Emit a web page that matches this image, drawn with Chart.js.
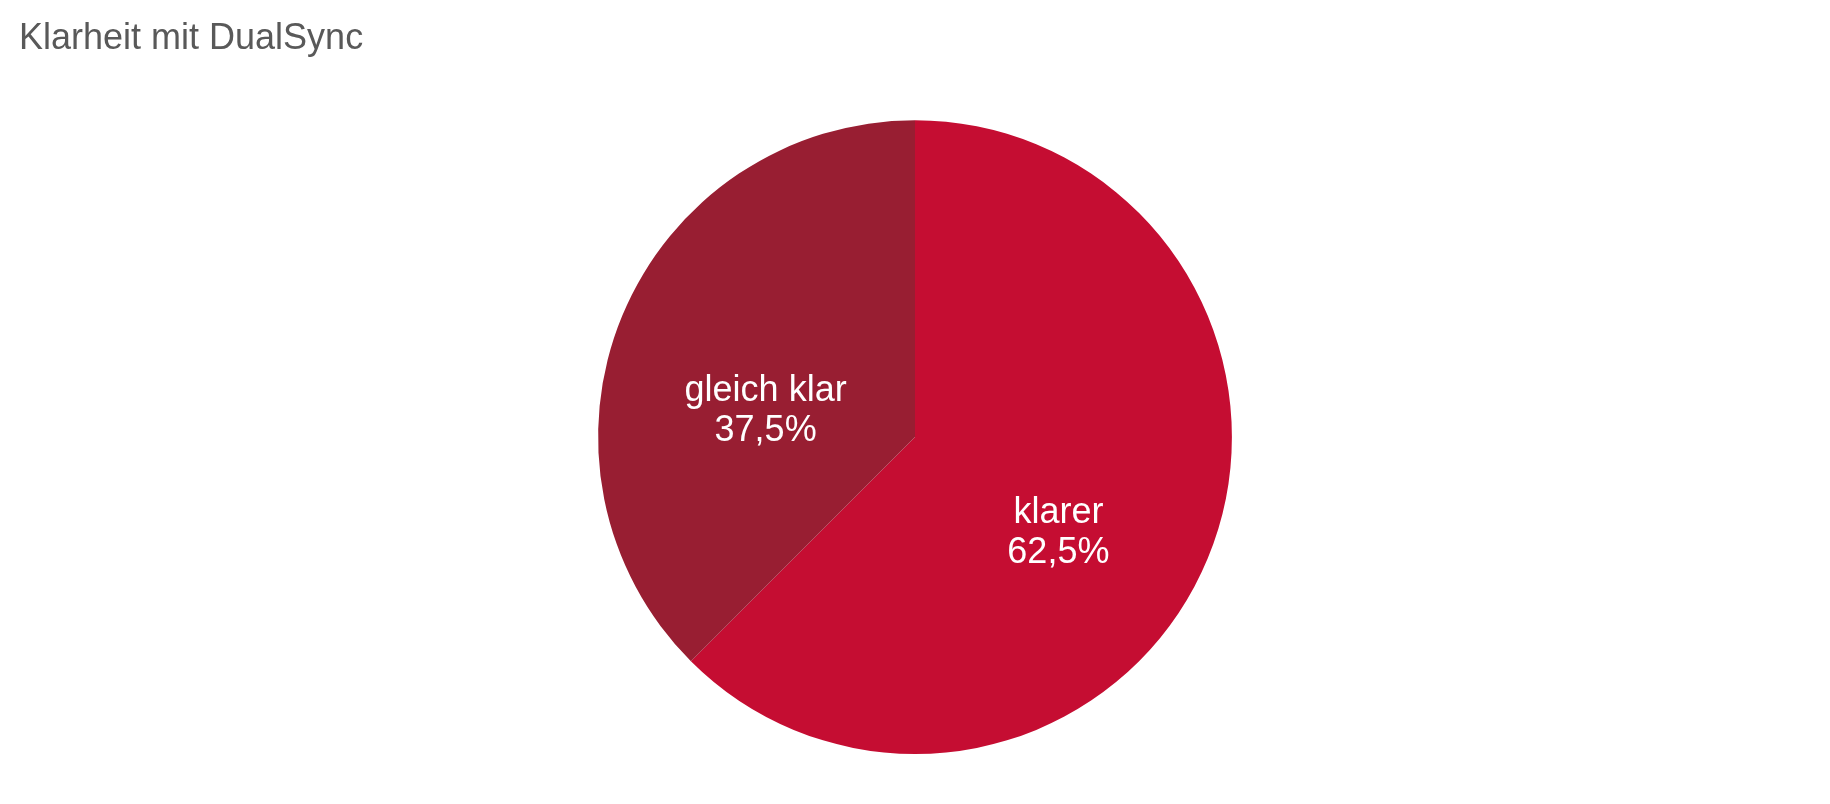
<!DOCTYPE html>
<html>
<head>
<meta charset="utf-8">
<title>Klarheit mit DualSync</title>
<script src="https://cdn.jsdelivr.net/npm/chart.js@4/dist/chart.umd.min.js"></script>
<style>
  html, body { margin: 0; padding: 0; background: #ffffff; }
  #wrap { width: 1830px; height: 804px; }
</style>
</head>
<body>
<div id="wrap"><canvas id="chart-pie"></canvas></div>
<script>
// Daten
var categories = ["klarer", "gleich klar"];
var shares = [62.5, 37.5];
var sliceColors = ["#c50d32", "#981e32"];

// Beschriftung in den Segmenten (Name + Prozent)
var sliceLabels = {
  id: "sliceLabels",
  afterDatasetsDraw: function (chart) {
    var ctx = chart.ctx;
    var meta = chart.getDatasetMeta(0);
    ctx.save();
    ctx.fillStyle = "#ffffff";
    ctx.font = "36px 'Liberation Sans', Arial, sans-serif";
    ctx.textAlign = "center";
    ctx.textBaseline = "top";
    meta.data.forEach(function (arc, i) {
      var p = arc.getProps(["x", "y", "startAngle", "endAngle", "outerRadius"], true);
      var mid = (p.startAngle + p.endAngle) / 2;
      var r = p.outerRadius * 0.5;
      var x = p.x + Math.cos(mid) * r - 3;
      var y = p.y + Math.sin(mid) * r - 3;
      var value = shares[i].toFixed(1).replace(".", ",") + "%";
      ctx.fillText(categories[i], x, y);
      ctx.fillText(value, x, y + 40);
    });
    ctx.restore();
  },
};

var ctx = document.getElementById("chart-pie").getContext("2d");
new Chart(ctx, {
  type: "pie",
  data: {
    labels: categories,
    datasets: [
      {
        data: shares,
        backgroundColor: sliceColors,
        borderWidth: 0,
      },
    ],
  },
  options: {
    responsive: true,
    maintainAspectRatio: false,
    animation: false,
    layout: {
      padding: { left: 19, right: 19, top: 0, bottom: 50 },
    },
    plugins: {
      legend: { display: false },
      tooltip: { enabled: false },
      title: {
        display: true,
        text: "Klarheit mit DualSync",
        align: "start",
        color: "#595959",
        font: {
          size: 36,
          weight: "normal",
          family: "'Liberation Sans', Arial, sans-serif",
          lineHeight: 1.2,
        },
        padding: { top: 17, bottom: 60 },
      },
    },
  },
  plugins: [sliceLabels],
});
</script>
</body>
</html>
